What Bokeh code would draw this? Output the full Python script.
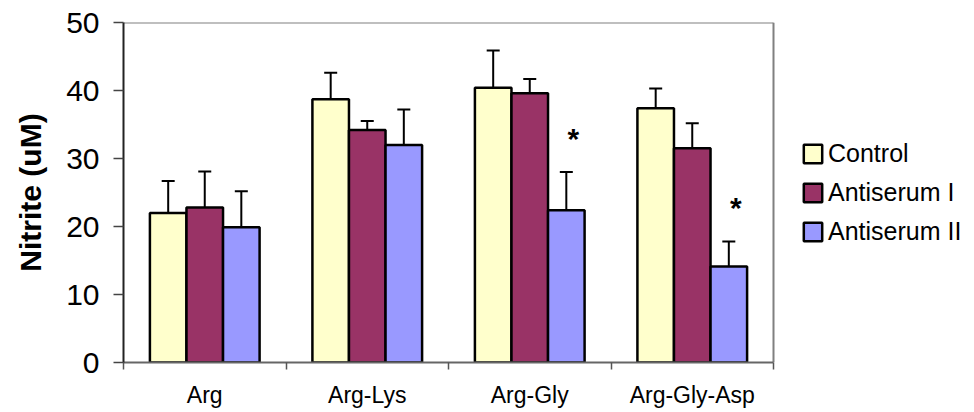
from bokeh.plotting import figure
from bokeh.models import (ColumnDataSource, FixedTicker, Whisker, TeeHead,
                          Legend, LegendItem, Range1d)
from bokeh.core.properties import value
from bokeh.transform import dodge
from bokeh.embed import file_html
from bokeh.resources import INLINE

# Nitrite production per substrate and treatment (mean and upper error)
categories = ["Arg", "Arg-Lys", "Arg-Gly", "Arg-Gly-Asp"]
series_names = ["Control", "Antiserum I", "Antiserum II"]
control = [22.0, 38.7, 40.4, 37.4]
control_err = [4.7, 3.9, 5.5, 2.9]
antiserum_1 = [22.8, 34.2, 39.6, 31.5]
antiserum_1_err = [5.3, 1.3, 2.1, 3.7]
antiserum_2 = [19.9, 32.0, 22.4, 14.1]
antiserum_2_err = [5.3, 5.2, 5.6, 3.7]
significant = [False, False, True, True]   # marked with * on Antiserum II
y_ticks = [0, 10, 20, 30, 40, 50]
Y_MAX = 50

colors = ["#FFFFCC", "#993366", "#9999FF"]
FONT = "Liberation Sans"
BAR_W = 0.225
offsets = [-BAR_W, 0.0, BAR_W]

n_cat = len(categories)
centers = [i + 0.5 for i in range(n_cat)]
boundaries = [float(i) for i in range(n_cat + 1)]

# The frame reaches to the right edge so the legend can sit beside the bars;
# the boxed plot area itself covers the category span [0, n_cat].
WIDTH, HEIGHT = 974, 412
LEFT, RIGHT, TOP, BOTTOM = 123, 4, 22, 50
BOX_PX = 650
x_end = n_cat * (WIDTH - LEFT - RIGHT) / BOX_PX

p = figure(width=WIDTH, height=HEIGHT, output_backend="svg", toolbar_location=None,
           x_range=Range1d(0, x_end), y_range=Range1d(0, Y_MAX),
           min_border_left=LEFT, min_border_right=RIGHT,
           min_border_top=TOP, min_border_bottom=BOTTOM)
p.background_fill_color = "white"
p.border_fill_color = "white"
p.outline_line_color = None
p.xgrid.visible = False
p.ygrid.visible = False

# grey top and right edges of the plot box
p.segment(x0=[0, n_cat], y0=[Y_MAX, 0], x1=[n_cat, n_cat], y1=[Y_MAX, Y_MAX],
          line_color="#808080", line_width=2)

series = [(control, control_err), (antiserum_1, antiserum_1_err),
          (antiserum_2, antiserum_2_err)]
renderers = []
for (vals, errs), color, off in zip(series, colors, offsets):
    src = ColumnDataSource(dict(
        x=centers, top=vals,
        upper=[v + e for v, e in zip(vals, errs)],
    ))
    r = p.vbar(x=dodge("x", off), top="top", width=BAR_W, bottom=0, source=src,
               fill_color=color, line_color="black", line_width=2.5)
    renderers.append(r)
    w = Whisker(base=dodge("x", off), lower="top", upper="upper", source=src,
                dimension="height", line_color="black", line_width=2,
                lower_head=None,
                upper_head=TeeHead(size=13, line_color="black", line_width=2))
    p.add_layout(w)

# significance marks above the Antiserum II error bars
star_src = ColumnDataSource(dict(
    x=[c for c, s in zip(centers, significant) if s],
    y=[v + e for v, e, s in zip(antiserum_2, antiserum_2_err, significant) if s],
    t=["*" for s in significant if s],
))
p.text(x=dodge("x", offsets[2]), y="y", text="t", source=star_src,
       text_font=value(FONT), text_font_size="30px", text_font_style="bold",
       text_align="center", text_baseline="middle", x_offset=7, y_offset=-34,
       text_color="black")

# y axis
p.yaxis.ticker = FixedTicker(ticks=y_ticks)
p.yaxis.axis_label = "Nitrite (uM)"
p.yaxis.axis_label_text_font = FONT
p.yaxis.axis_label_text_font_style = "bold"
p.yaxis.axis_label_text_font_size = "30px"
p.yaxis.axis_label_text_color = "black"
p.yaxis.axis_label_standoff = 16
p.yaxis.major_label_text_font = FONT
p.yaxis.major_label_text_font_size = "30px"
p.yaxis.major_label_text_color = "black"
p.yaxis.major_label_standoff = 14
p.yaxis.major_tick_out = 10
p.yaxis.major_tick_in = 0
p.yaxis.minor_tick_line_color = None
p.yaxis.axis_line_color = "#222222"
p.yaxis.axis_line_width = 2
p.yaxis.major_tick_line_color = "#444444"
p.yaxis.major_tick_line_width = 1.5

# x axis: labels at category centres, tick marks at category boundaries
p.xaxis.bounds = (0, n_cat)
p.xaxis.ticker = FixedTicker(ticks=centers, minor_ticks=boundaries)
p.xaxis.major_label_overrides = {c: name for c, name in zip(centers, categories)}
p.xaxis.major_label_text_font = FONT
p.xaxis.major_label_text_font_size = "23px"
p.xaxis.major_label_text_color = "black"
p.xaxis.major_label_standoff = 12
p.xaxis.major_tick_line_color = None
p.xaxis.major_tick_out = 0
p.xaxis.major_tick_in = 0
p.xaxis.minor_tick_out = 7
p.xaxis.minor_tick_in = 0
p.xaxis.minor_tick_line_color = "#555555"
p.xaxis.minor_tick_line_width = 1.5
p.xaxis.axis_line_color = "#666666"
p.xaxis.axis_line_width = 2

legend = Legend(
    items=[LegendItem(label=n, renderers=[r]) for n, r in zip(series_names, renderers)],
    location=(678, 116), orientation="vertical",
    label_text_font=FONT, label_text_font_size="25px", label_text_color="black",
    glyph_width=23, glyph_height=23, label_standoff=4, spacing=10,
    padding=0, margin=0, border_line_color=None, background_fill_alpha=0,
)
p.add_layout(legend, "center")

open("out.html", "w").write(file_html(p, INLINE))
